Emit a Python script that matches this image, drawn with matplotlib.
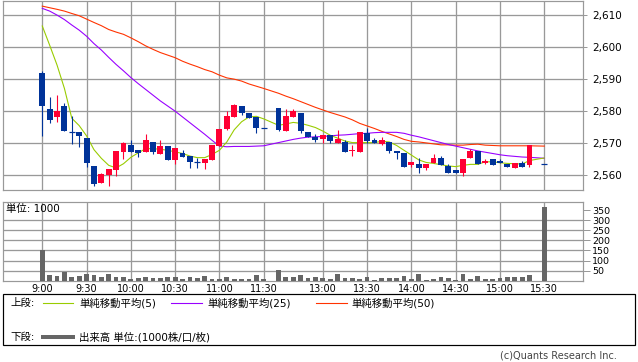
import matplotlib
matplotlib.use('Agg')
import matplotlib.pyplot as plt
from matplotlib.lines import Line2D
from matplotlib.patches import Rectangle

plt.rcParams['font.family'] = ['DejaVu Sans', 'Noto Sans CJK JP']

# ---------------- data (5-minute bars, slot 31 = lunch gap, slot 67 = no trade) ----------------
opens = [2591.9, 2580.6, 2578.2, 2581.6, 2573.4, 2573.4, 2571.6, 2562.8, 2557.6, 2560.0,
         2561.6, 2567.3, 2569.4, 2567.8, 2567.3, 2570.3, 2566.5, 2569.1, 2564.9, 2567.0,
         2565.9, 2564.0, 2563.9, 2564.9, 2569.1, 2574.4, 2578.2, 2581.5, 2579.3, 2578.2,
         2574.9, None, 2580.9, 2573.9, 2578.2, 2579.5, 2573.5, 2572.1, 2571.3, 2572.5,
         2570.0, 2570.5, 2567.6, 2567.4, 2573.1, 2571.0, 2569.8, 2570.3, 2567.6, 2567.0,
         2563.2, 2563.5, 2562.2, 2563.7, 2565.3, 2562.9, 2561.7, 2560.8, 2565.3, 2567.5,
         2563.9, 2565.1, 2564.4, 2563.5, 2562.2, 2563.7, 2563.2, None, 2563.5]
highs = [2592.5, 2584.4, 2585.0, 2582.5, 2578.4, 2573.4, 2571.6, 2562.8, 2560.8, 2561.9,
         2567.5, 2570.3, 2571.0, 2567.8, 2572.8, 2570.3, 2571.0, 2569.1, 2568.4, 2567.8,
         2565.9, 2565.5, 2565.2, 2569.4, 2574.4, 2580.0, 2582.4, 2581.5, 2579.3, 2578.2,
         2574.9, None, 2580.9, 2580.8, 2580.8, 2579.5, 2573.5, 2572.8, 2572.6, 2572.5,
         2574.1, 2570.9, 2569.5, 2573.4, 2574.6, 2571.5, 2571.9, 2570.3, 2567.6, 2567.0,
         2564.0, 2565.3, 2563.5, 2566.6, 2566.1, 2563.5, 2561.7, 2565.1, 2568.3, 2567.5,
         2565.0, 2565.1, 2565.1, 2563.5, 2563.7, 2564.6, 2569.4, None, 2563.5]
lows = [2572.3, 2576.25, 2576.7, 2573.9, 2569.9, 2568.9, 2562.6, 2556.8, 2557.6, 2556.7,
        2559.8, 2565.1, 2567.3, 2565.7, 2567.3, 2566.6, 2566.5, 2564.9, 2563.6, 2565.7,
        2562.4, 2562.4, 2561.8, 2564.9, 2569.1, 2574.1, 2578.2, 2578.9, 2578.0, 2573.3,
        2574.8, None, 2573.9, 2573.9, 2578.2, 2573.3, 2571.9, 2570.3, 2570.2, 2570.0,
        2570.0, 2567.4, 2565.9, 2567.4, 2570.0, 2570.2, 2569.3, 2566.9, 2565.2, 2562.7,
        2562.7, 2560.8, 2561.7, 2563.7, 2563.2, 2560.8, 2560.8, 2559.9, 2565.3, 2563.5,
        2563.5, 2563.2, 2563.7, 2562.5, 2562.2, 2562.7, 2562.7, None, 2563.4]
closes = [2581.7, 2577.3, 2580.0, 2573.9, 2573.3, 2572.3, 2563.9, 2557.3, 2560.3, 2561.9,
          2567.5, 2570.0, 2567.3, 2566.8, 2570.9, 2567.3, 2569.1, 2564.9, 2568.4, 2565.7,
          2564.2, 2563.9, 2565.2, 2569.4, 2574.4, 2578.4, 2581.9, 2579.3, 2578.0, 2574.8,
          2574.8, None, 2574.1, 2578.5, 2580.0, 2573.9, 2571.9, 2570.9, 2572.6, 2570.8,
          2571.2, 2567.4, 2567.9, 2573.4, 2570.8, 2570.2, 2571.0, 2567.6, 2566.9, 2562.7,
          2564.0, 2562.4, 2563.5, 2565.3, 2563.2, 2560.8, 2560.8, 2565.1, 2567.5, 2563.5,
          2564.4, 2563.2, 2563.7, 2562.7, 2563.7, 2562.7, 2569.4, None, 2563.4]

ma5 = [2606.6, 2600.6, 2594.4, 2587.1, 2577.8, 2575.5, 2572.3, 2568.0, 2565.3, 2563.1,
       2562.3, 2563.6, 2565.6, 2567.0, 2568.3, 2568.3, 2568.1, 2567.8, 2567.3, 2566.8,
       2566.0, 2565.5, 2565.5, 2566.5, 2567.8, 2570.4, 2574.2, 2576.7, 2578.2, 2578.4,
       2577.6, None, 2575.6, 2576.0, 2576.5, 2576.2, 2575.6, 2574.9, 2573.8, 2572.5,
       2571.6, 2570.7, 2570.2, 2570.2, 2570.2, 2570.2, 2570.6, 2570.4, 2569.3, 2567.8,
       2566.3, 2564.8, 2564.0, 2563.7, 2563.3, 2562.9, 2562.7, 2563.1, 2563.4, 2563.4,
       2564.2, 2564.2, 2563.9, 2563.7, 2563.6, 2563.5, 2564.6, None, 2565.4]
ma25 = [2612.1, 2611.25, 2610.0, 2608.6, 2606.9, 2605.3, 2603.4, 2601.1, 2599.1, 2596.8,
        2594.6, 2592.6, 2590.5, 2588.6, 2586.8, 2585.0, 2583.2, 2581.6, 2580.0, 2578.2,
        2576.4, 2574.6, 2572.8, 2570.9, 2569.1, 2568.9, 2569.0, 2569.0, 2569.0, 2569.1,
        2569.2, None, 2570.2, 2570.7, 2571.2, 2571.6, 2571.9, 2572.0, 2572.1, 2572.3,
        2572.5, 2572.6, 2572.8, 2573.0, 2573.1, 2573.3, 2573.4, 2573.4, 2573.4, 2573.1,
        2572.5, 2572.0, 2571.4, 2570.8, 2570.2, 2569.6, 2569.1, 2568.6, 2568.1, 2567.6,
        2567.2, 2566.8, 2566.4, 2566.1, 2565.9, 2565.7, 2565.6, None, 2565.3]
ma50 = [2612.8, 2612.3, 2611.8, 2611.25, 2610.5, 2609.8, 2608.75, 2607.7, 2606.7, 2605.5,
        2604.7, 2604.0, 2602.9, 2601.7, 2600.4, 2599.3, 2598.3, 2597.5, 2596.7, 2595.6,
        2594.7, 2593.9, 2593.0, 2592.3, 2591.25, 2590.4, 2590.0, 2589.4, 2588.5, 2587.8,
        2587.1, None, 2585.6, 2584.7, 2583.9, 2583.0, 2582.1, 2581.2, 2580.4, 2579.6,
        2578.9, 2578.2, 2577.3, 2576.2, 2575.4, 2574.6, 2573.7, 2572.9, 2572.1, 2571.2,
        2570.6, 2570.4, 2570.1, 2569.8, 2569.5, 2569.5, 2569.4, 2569.4, 2569.6, 2569.7,
        2569.4, 2569.3, 2569.2, 2569.2, 2569.2, 2569.2, 2569.2, None, 2569.1]

volumes = [153, 29, 23, 41, 18, 23, 33, 28, 18, 33,
           18, 18, 8, 13, 18, 13, 13, 18, 18, 8,
           18, 13, 23, 8, 8, 18, 8, 8, 8, 28,
           8, None, 53, 18, 18, 28, 13, 18, 13, 8,
           35, 13, 13, 8, 18, 3, 13, 13, 13, 23,
           8, 35, 3, 8, 18, 13, 3, 35, 8, 25,
           8, 8, 13, 18, 18, 18, 30, None, 366]

tick_slots = [0, 6, 12, 18, 24, 30, 38, 44, 50, 56, 62, 68]
tick_labels = ['9:00', '9:30', '10:00', '10:30', '11:00', '11:30',
               '13:00', '13:30', '14:00', '14:30', '15:00', '15:30']
price_ticks = [2560, 2570, 2580, 2590, 2600, 2610]
vol_ticks = [50, 100, 150, 200, 250, 300, 350]
vol_grid = [50, 100, 150, 200, 250, 300]

UP, DOWN = '#ff0033', '#003399'
C5, C25, C50 = '#99cc00', '#9900ff', '#ff3300'
VOLC = '#666666'
GRID = '#999999'

# ---------------- layout ----------------
W, H = 638, 362
fig = plt.figure(figsize=(W / 100, H / 100), dpi=100)

def rect(l, t, r, b):
    return [l / W, 1 - b / H, (r - l) / W, (b - t) / H]

ax = fig.add_axes(rect(3.3, 1, 582.5, 190))
axv = fig.add_axes(rect(3.3, 201.5, 582.5, 280.7))
XL = (-5.28, 73.18)
PX = 0.72  # one pixel in points

for a in (ax, axv):
    a.set_xlim(*XL)
    for s in a.spines.values():
        s.set_color(GRID)
        s.set_linewidth(PX * 1.2)
    for t in tick_slots:
        a.axvline(t, color=GRID, lw=PX * 1.3, zorder=0)

# ---------------- price panel ----------------
ax.set_ylim(2555.4, 2614.4)
for p in price_ticks:
    ax.axhline(p, color=GRID, lw=PX * 1.3, zorder=0)

for a_ma, col in ((ma50, C50), (ma25, C25), (ma5, C5)):
    xs = [i for i, v in enumerate(a_ma) if v is not None]
    ys = [v for v in a_ma if v is not None]
    ax.plot(xs, ys, color=col, lw=PX * 1.1, zorder=3)

for i, (o, h, l, c) in enumerate(zip(opens, highs, lows, closes)):
    if o is None:
        continue
    col = UP if c > o else DOWN
    ax.vlines(i, l, h, color=col, lw=PX * 1.1, zorder=4)
    if abs(c - o) < 0.3:
        ax.hlines(o, i - 0.4, i + 0.4, color=col, lw=PX * 1.2, zorder=4)
    else:
        ax.bar(i, abs(c - o), bottom=min(o, c), width=0.8, color=col, lw=0, zorder=4)

ax.yaxis.tick_right()
ax.set_yticks(price_ticks)
ax.set_yticklabels([f'{p:,}' for p in price_ticks])
ax.set_xticks([])
ax.tick_params(axis='y', length=3, width=PX, color=GRID, labelsize=7.5, pad=4)

# ---------------- volume panel ----------------
axv.set_ylim(0, 393)
for v in vol_grid:
    axv.axhline(v, color=GRID, lw=PX * 1.3, zorder=0)
vx = [i for i, v in enumerate(volumes) if v is not None]
vy = [v for v in volumes if v is not None]
axv.bar(vx, vy, width=0.65, color=VOLC, lw=0, zorder=3)
axv.yaxis.tick_right()
axv.set_yticks(vol_ticks)
axv.set_yticklabels([str(v) for v in vol_ticks])
axv.tick_params(axis='y', length=5, width=PX, color=GRID, labelsize=6.8, pad=2)
axv.set_xticks(tick_slots)
axv.set_xticklabels(tick_labels)
axv.tick_params(axis='x', length=0, labelsize=7, pad=2.5)

fig.text(6 / W, 1 - 209 / H, '単位: 1000', fontsize=7.5, va='center', ha='left')

# ---------------- legend box ----------------
fig.patches.append(Rectangle((3 / W, 1 - 345 / H), 632 / W, 51 / H, transform=fig.transFigure,
                             fill=False, edgecolor='black', lw=PX * 1.2))
r1, r2 = 1 - 303 / H, 1 - 337 / H
fig.text(10 / W, r1, '上段:', fontsize=7.5, va='center')
for (x0, x1, tx, col, lab) in ((43, 73, 79, C5, '単純移動平均(5)'),
                               (171, 202, 207, C25, '単純移動平均(25)'),
                               (316, 347, 351, C50, '単純移動平均(50)')):
    fig.lines.append(Line2D([x0 / W, x1 / W], [r1, r1], transform=fig.transFigure,
                            color=col, lw=PX * 1.1))
    fig.text(tx / W, r1, lab, fontsize=7.5, va='center')
fig.text(10 / W, r2, '下段:', fontsize=7.5, va='center')
fig.lines.append(Line2D([43 / W, 73 / W], [r2, r2], transform=fig.transFigure,
                        color=VOLC, lw=PX * 4))
fig.text(79 / W, r2, '出来高 単位:(1000株/口/枚)', fontsize=7.5, va='center')

fig.text(617 / W, 1 - 356 / H, '(c)Quants Research Inc.', fontsize=7, color='#444444',
         ha='right', va='center')

fig.savefig('out.png', dpi=100)
